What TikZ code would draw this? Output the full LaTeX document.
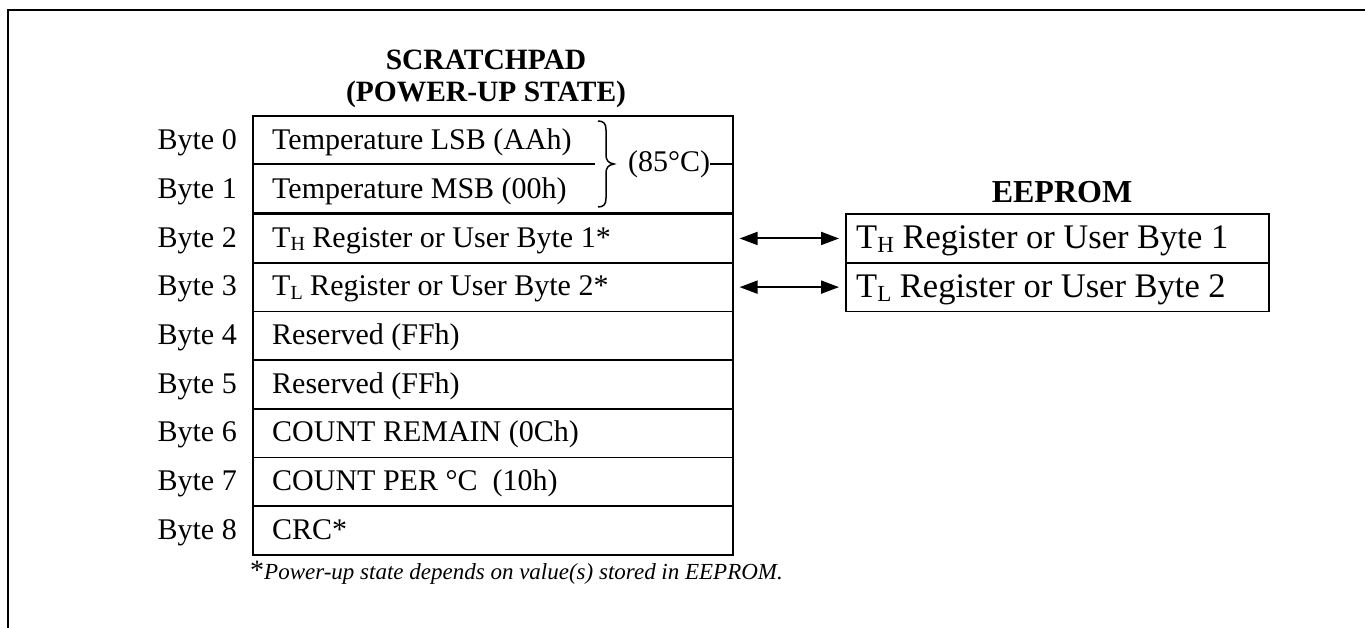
\documentclass[tikz,border=0pt]{standalone}
\usepackage{fontspec}
\setmainfont{Liberation Serif}
\usetikzlibrary{arrows.meta}
\newcommand\subx[1]{\raisebox{-3.5pt}{\fontsize{20}{20}\selectfont #1}}
\newcommand\subxl[1]{\raisebox{-4pt}{\fontsize{23}{23}\selectfont #1}}
\begin{document}
\begin{tikzpicture}[x=1pt,y=-1pt,
  cellbox/.style={draw, line width=1.6pt, minimum width=480pt, minimum height=48.667pt, inner sep=0pt, anchor=north west},
  eebox/.style={draw, line width=1.6pt, minimum width=423pt, minimum height=48.667pt, inner sep=0pt, anchor=north west},
  txt/.style={anchor=base west, inner sep=0pt, font=\fontsize{30}{36}\selectfont},
  eetxt/.style={anchor=base west, inner sep=0pt, font=\fontsize{34.5}{40}\selectfont},
  lbl/.style={anchor=base east, inner sep=0pt, font=\fontsize{30}{36}\selectfont},
  ttl/.style={anchor=base, inner sep=0pt, font=\fontsize{29.5}{34}\selectfont\bfseries},
  dbl/.style={{Triangle[length=18pt,width=13pt]}-{Triangle[length=18pt,width=13pt]}, line width=2pt, shorten <=6pt, shorten >=6pt}
]
\useasboundingbox (0,0) rectangle (1365,628);
% frame
\draw[line width=2pt] (8,628) -- (8,10) -- (1365,10);
% titles
\node[ttl] (t1) at (486,70) {SCRATCHPAD};
\node[ttl] (t2) at (486,102) {(POWER-UP STATE)};
\node[ttl, font=\fontsize{32}{36}\selectfont\bfseries] (t3) at (1062,203) {EEPROM};
% scratchpad cells
\node[cellbox, minimum height=97.333pt] (c01) at (252,115) {};
\node[cellbox] (r2) at (252,213.333) {};
\node[cellbox] (r3) at (252,262) {};
\node[cellbox] (r4) at (252,310.667) {};
\node[cellbox] (r5) at (252,359.333) {};
\node[cellbox] (r6) at (252,408) {};
\node[cellbox] (r7) at (252,456.667) {};
\node[cellbox] (r8) at (252,505.333) {};
\coordinate (d0) at (252,164);
\coordinate (d1) at (595,164);
\draw[line width=1.6pt] (d0) -- (d1);
% byte labels
\node[lbl] (b0) at (237,150) {Byte 0};
\node[lbl] (b1) at (237,198.5) {Byte 1};
\node[lbl] (b2) at (237,247.2) {Byte 2};
\node[lbl] (b3) at (237,295.8) {Byte 3};
\node[lbl] (b4) at (237,344.5) {Byte 4};
\node[lbl] (b5) at (237,393.2) {Byte 5};
\node[lbl] (b6) at (237,441.8) {Byte 6};
\node[lbl] (b7) at (237,490.5) {Byte 7};
\node[lbl] (b8) at (237,539.2) {Byte 8};
% row texts
\node[txt] (x0) at (272,150) {Temperature LSB (AAh)};
\node[txt] (x1) at (272,198.5) {Temperature MSB (00h)};
\node[txt] (x2) at (272,247.2) {T\subx{H} Register or User Byte 1*};
\node[txt] (x3) at (272,295.8) {T\subx{L} Register or User Byte 2*};
\node[txt] (x4) at (272,344.5) {Reserved (FFh)};
\node[txt] (x5) at (272,393.2) {Reserved (FFh)};
\node[txt] (x6) at (272,441.8) {COUNT REMAIN (0Ch)};
\node[txt] (x7) at (272,490.5) {COUNT PER °C\hspace{0.5em}(10h)};
\node[txt] (x8) at (272,539.2) {CRC*};
% brace
\draw[line width=1.5pt] (598,121) .. controls (604,121) and (606,124) .. (606,130) -- (606,155)
  .. controls (606,160) and (608,163) .. (614,164)
  .. controls (608,165) and (606,168) .. (606,173) -- (606,198)
  .. controls (606,204) and (604,207) .. (598,207);
\node[anchor=west, inner sep=0pt, font=\fontsize{30}{36}\selectfont] (t85) at (628,164) {(85°C)};
\draw[line width=1.6pt] (t85.east) -- (t85.east -| c01.east);
% eeprom
\node[eebox] (e1) at (845,213.333) {};
\node[eebox] (e2) at (845,262) {};
\node[eetxt] (y1) at (856,249) {T\subxl{H} Register or User Byte 1};
\node[eetxt] (y2) at (856,297.7) {T\subxl{L} Register or User Byte 2};
% arrows
\draw[dbl] (r2.east) -- (e1.west);
\draw[dbl] (r3.east) -- (e2.west);
% footnote
\node[anchor=base west, inner sep=0pt] (fn) at (250,579) {{\fontsize{28}{28}\selectfont *}{\fontsize{23}{28}\selectfont\itshape Power-up state depends on value(s) stored in EEPROM.}};
\end{tikzpicture}
\end{document}
